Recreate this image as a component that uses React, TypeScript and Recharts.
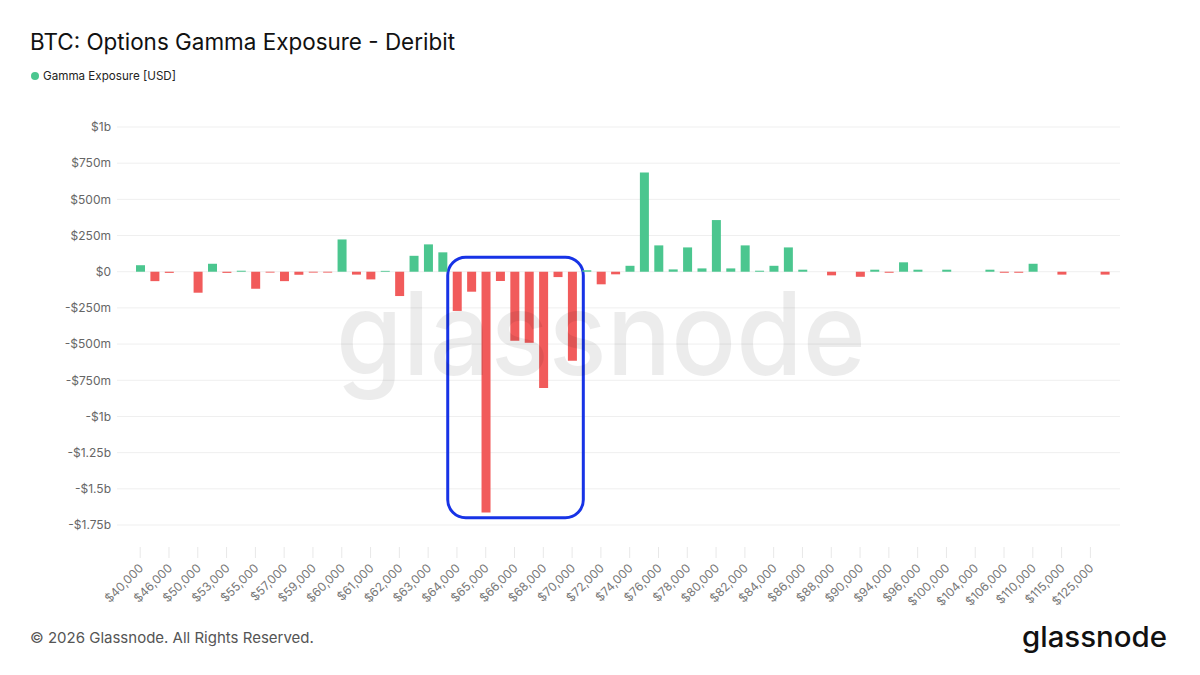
import React from 'react';
import { BarChart, Bar, XAxis, YAxis, CartesianGrid, Cell, ReferenceArea } from 'recharts';

const strikes = [
  '$40,000', '$45,000', '$46,000', '$48,000', '$50,000', '$52,000', '$53,000', '$54,000',
  '$55,000', '$56,000', '$57,000', '$58,000', '$59,000', '$59,500', '$60,000', '$60,500',
  '$61,000', '$61,500', '$62,000', '$62,500', '$63,000', '$63,500', '$64,000', '$64,500',
  '$65,000', '$65,500', '$66,000', '$67,000', '$68,000', '$69,000', '$70,000', '$71,000',
  '$72,000', '$73,000', '$74,000', '$75,000', '$76,000', '$77,000', '$78,000', '$79,000',
  '$80,000', '$81,000', '$82,000', '$83,000', '$84,000', '$85,000', '$86,000', '$87,000',
  '$88,000', '$89,000', '$90,000', '$92,000', '$94,000', '$95,000', '$96,000', '$98,000',
  '$100,000', '$102,000', '$104,000', '$105,000', '$106,000', '$108,000', '$110,000', '$112,000',
  '$115,000', '$120,000', '$125,000', '$130,000',
];

// Gamma exposure in millions of USD
const gammaExposureM = [
  45, -65, -8, 0, -145, 55, -8, 7,
  -117, -6, -65, -21, -6, -6, 223, -20,
  -53, 6, -168, 110, 189, 134, -271, -138,
  -1664, -64, -477, -491, -803, -37, -615, 10,
  -87, -18, 41, 686, 182, 16, 168, 23,
  357, 23, 182, 7, 41, 168, 14, 0,
  -25, 0, -35, 14, -7, 65, 14, 0,
  14, 0, 0, 14, -7, -7, 55, 0,
  -20, 0, 0, -20,
];

const yTicks = [1000, 750, 500, 250, 0, -250, -500, -750, -1000, -1250, -1500, -1750];

const highlightStart = '$64,000';
const highlightEnd = '$70,000';
const highlightTop = 100;
const highlightBottom = -1700;

const GREEN = '#4bc68f';
const RED = '#f15b5b';

const data = strikes.map((strike, i) => ({ strike, gex: gammaExposureM[i] }));

const fmtY = (v: number) => {
  if (v === 0) return '$0';
  const sign = v < 0 ? '-' : '';
  const a = Math.abs(v);
  if (a >= 1000) return `${sign}$${a / 1000}b`;
  return `${sign}$${a}m`;
};

const XTick = (props: any) => {
  const { x, y, payload } = props;
  const px = x + 4;
  const py = y + 44;
  return (
    <g>
      <line x1={x} x2={x} y1={y + 22} y2={y + 33} stroke="#e8e8e8" strokeWidth={1} />
      <text
        x={px}
        y={py}
        transform={`rotate(-45 ${px} ${py})`}
        textAnchor="end"
        fontSize={12}
        fill="#777"
      >
        {payload.value}
      </text>
    </g>
  );
};

const HighlightBox = (p: any) => (
  <rect
    x={p.x - 2}
    y={p.y}
    width={p.width + 6}
    height={p.height}
    rx={18}
    ry={18}
    fill="none"
    stroke="#1733e6"
    strokeWidth={3}
  />
);

export default function App() {
  return (
    <div
      style={{
        position: 'absolute',
        left: 0,
        top: 0,
        width: 1200,
        height: 675,
        background: '#fff',
        fontFamily: 'Inter, "Noto Sans", sans-serif',
        overflow: 'hidden',
      }}
    >
      <BarChart
        width={1200}
        height={675}
        data={data}
        margin={{ top: 127, right: 80, bottom: 90, left: 57 }}
        barCategoryGap={0}
      >
        <CartesianGrid vertical={false} stroke="#efefef" strokeWidth={1} />
        <XAxis
          dataKey="strike"
          type="category"
          interval={1}
          axisLine={false}
          tickLine={false}
          tickSize={0}
          tickMargin={0}
          height={60}
          padding={{ left: 16, right: 8 }}
          tick={<XTick />}
        />
        <YAxis
          type="number"
          domain={[-1750, 1000]}
          ticks={yTicks}
          tickFormatter={fmtY}
          axisLine={false}
          tickLine={false}
          tickSize={4}
          tickMargin={2}
          width={60}
          interval={0}
          tick={{ fontSize: 12, fill: '#666' }}
        />
        <Bar dataKey="gex" barSize={9} isAnimationActive={false}>
          {data.map((d, i) => (
            <Cell key={i} fill={d.gex >= 0 ? GREEN : RED} />
          ))}
        </Bar>
        <ReferenceArea
          x1={highlightStart}
          x2={highlightEnd}
          y1={highlightTop}
          y2={highlightBottom}
          ifOverflow="visible"
          shape={<HighlightBox />}
        />
      </BarChart>
      <svg
        width={1200}
        height={675}
        style={{ position: 'absolute', left: 0, top: 0, pointerEvents: 'none' }}
      >
        <text
          x={336}
          y={375}
          fontSize={116}
          fontWeight={500}
          fill="#000"
          fillOpacity={0.075}
          textLength={530}
          lengthAdjust="spacingAndGlyphs"
        >
          glassnode
        </text>
        <text x={30} y={50} fontSize={22.5} fill="#111" textLength={425} lengthAdjust="spacingAndGlyphs">
          BTC: Options Gamma Exposure - Deribit
        </text>
        <circle cx={35} cy={76} r={4} fill={GREEN} />
        <text x={43} y={80} fontSize={12} fill="#222" textLength={133} lengthAdjust="spacingAndGlyphs">
          Gamma Exposure [USD]
        </text>
        <text x={30} y={643} fontSize={15} fill="#555">
          © 2026 Glassnode. All Rights Reserved.
        </text>
        <text
          x={1022}
          y={647}
          fontSize={28}
          fontWeight={500}
          fill="#111"
          textLength={145}
          lengthAdjust="spacingAndGlyphs"
        >
          glassnode
        </text>
      </svg>
    </div>
  );
}
